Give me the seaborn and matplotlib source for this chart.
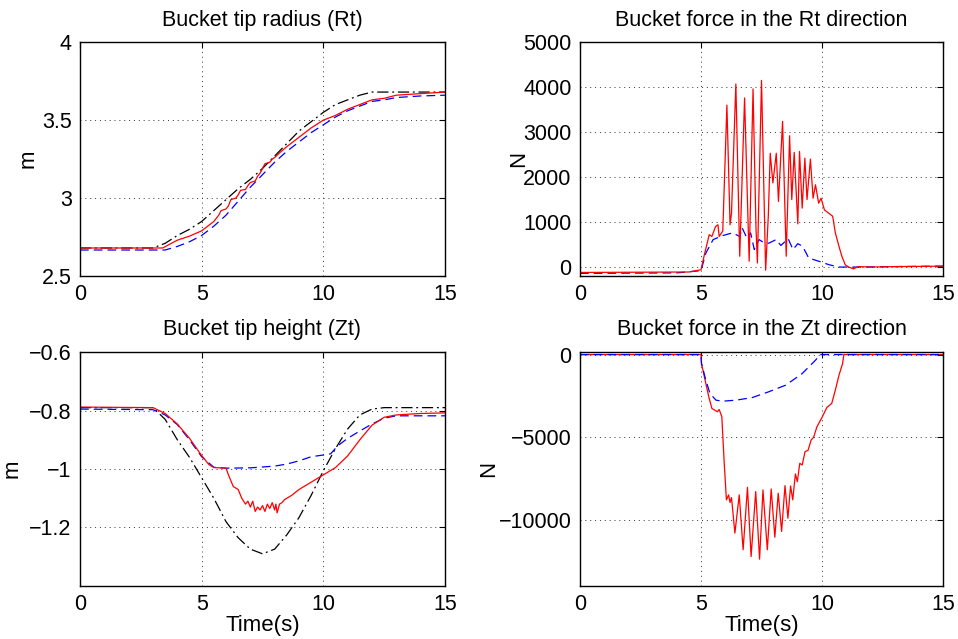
import numpy as np
import pandas as pd
import matplotlib
matplotlib.use('Agg')
import matplotlib.pyplot as plt
import seaborn as sns

# Bucket tip radius (Rt), m
rt_ref_t = [0, 3.0, 3.5, 4.0, 4.5, 5.0, 5.5, 6.0, 6.5, 7.0, 7.5, 8.0, 8.5, 9.0, 9.5, 10.0, 10.5, 11.0, 11.5, 12.0, 12.5, 15]
rt_ref = [2.68, 2.68, 2.71, 2.76, 2.80, 2.85, 2.92, 2.99, 3.06, 3.12, 3.19, 3.27, 3.35, 3.43, 3.49, 3.55, 3.60, 3.63, 3.66, 3.68, 3.68, 3.68]
rt_meas_t = [0, 3.4, 4.0, 4.5, 5.0, 5.5, 5.7, 5.8, 6.0, 6.1, 6.2, 6.4, 6.5, 6.6, 6.8, 6.9, 7.0, 7.2, 7.3, 7.4, 7.6, 7.8, 7.9, 8.0,
             8.2, 8.5, 9.0, 9.5, 10.0, 10.5, 11.0, 11.5, 12.0, 12.5, 13.0, 14.0, 15]
rt_meas = [2.68, 2.68, 2.73, 2.756, 2.79, 2.85, 2.89, 2.92, 2.93, 2.95, 2.99, 3.00, 3.02, 3.05, 3.055, 3.08, 3.10, 3.11, 3.14, 3.16, 3.22, 3.23, 3.25, 3.26,
           3.29, 3.33, 3.39, 3.45, 3.50, 3.53, 3.57, 3.60, 3.63, 3.64, 3.66, 3.67, 3.68]
rt_sim_t = [0, 3.5, 4.0, 4.5, 5.0, 5.5, 6.0, 6.5, 7.0, 7.5, 8.0, 8.5, 9.0, 9.5, 10.0, 10.5, 11.0, 11.5, 12.0, 12.5, 13.0, 14.0, 15]
rt_sim = [2.667, 2.667, 2.69, 2.72, 2.76, 2.82, 2.89, 2.98, 3.07, 3.15, 3.23, 3.30, 3.36, 3.42, 3.47, 3.52, 3.56, 3.59, 3.62, 3.63, 3.645, 3.655, 3.66]

# Bucket force in the Rt direction, N
fr_meas_t = [0, 4.5, 5.0, 5.15, 5.34, 5.45, 5.6, 5.7, 5.75, 5.9, 6.07, 6.2, 6.26, 6.44, 6.6, 6.8, 6.99, 7.15, 7.27, 7.33, 7.5, 7.67,
             7.78, 7.86, 7.97, 8.11, 8.2, 8.37, 8.52, 8.66, 8.75, 8.85, 9.0, 9.07, 9.18, 9.29, 9.38, 9.52, 9.63, 9.73, 9.86, 9.96,
             10.1, 10.27, 10.44, 10.55, 10.7, 10.82, 10.96, 11.1, 11.3, 11.5, 12.0, 13.0, 14.0, 15]
fr_meas = [-120, -110, -60, 300, 720, 680, 900, 940, 680, 800, 3600, 940, 1200, 4070, 240, 3760, 130, 3960, 900, 90, 4150, -70,
           1130, 2530, 1870, 2530, 1460, 3240, 240, 2920, 1500, 2550, 960, 2570, 1310, 2420, 1500, 2400, 1530, 1830, 1420, 1530,
           1270, 1200, 1130, 760, 460, 240, 50, 0, -40, 10, 0, 10, 15, 20]
fr_sim_t = [0, 4.0, 5.0, 5.2, 5.5, 5.9, 6.3, 6.6, 6.7, 6.9, 7.05, 7.2, 7.4, 7.6, 7.8, 8.1, 8.3, 8.6, 8.8, 9.0, 9.2, 9.45, 9.86,
            10.3, 10.7, 11.5, 13.0, 15]
fr_sim = [-140, -130, -80, 310, 610, 700, 760, 680, 870, 640, 760, 390, 610, 540, 530, 610, 480, 630, 390, 520, 460, 200, 130,
          50, 0, 0, 10, 20]

# Bucket tip height (Zt), m
zt_ref_t = [0, 3.0, 3.5, 4.0, 4.5, 5.0, 5.5, 6.0, 6.5, 7.0, 7.5, 8.0, 8.5, 9.0, 9.5, 10.0, 10.5, 11.0, 11.5, 12.0, 12.5, 15]
zt_ref = [-0.79, -0.79, -0.83, -0.90, -0.96, -1.03, -1.10, -1.18, -1.235, -1.274, -1.29, -1.274, -1.225, -1.166, -1.09, -1.006,
          -0.93, -0.863, -0.815, -0.795, -0.79, -0.79]
zt_meas_t = [0, 3.0, 3.5, 4.0, 4.5, 5.0, 5.3, 5.5, 6.0, 6.1, 6.3, 6.5, 6.65, 6.8, 6.9, 7.0, 7.1, 7.2, 7.3, 7.4, 7.5, 7.6, 7.7,
             7.8, 7.9, 8.0, 8.05, 8.1, 8.2, 8.3, 8.4, 8.5, 8.7, 9.0, 9.5, 10.0, 10.5, 11.0, 11.5, 12.0, 12.5, 13.0, 14.0, 15]
zt_meas = [-0.788, -0.79, -0.81, -0.846, -0.895, -0.954, -0.985, -0.995, -0.997, -1.02, -1.06, -1.07, -1.10, -1.12, -1.11, -1.13,
           -1.11, -1.145, -1.13, -1.14, -1.125, -1.145, -1.12, -1.135, -1.115, -1.14, -1.12, -1.15, -1.12, -1.115, -1.105, -1.10,
           -1.09, -1.07, -1.045, -1.02, -0.995, -0.955, -0.90, -0.85, -0.823, -0.815, -0.81, -0.808]
zt_sim_t = [0, 3.0, 3.5, 4.0, 4.5, 5.0, 5.5, 6.0, 7.0, 8.0, 8.5, 9.0, 9.5, 10.0, 10.3, 10.6, 11.0, 11.5, 12.0, 12.5, 13.0, 14.0, 15]
zt_sim = [-0.795, -0.797, -0.815, -0.848, -0.90, -0.958, -0.994, -0.997, -0.996, -0.99, -0.983, -0.972, -0.958, -0.952, -0.948,
          -0.92, -0.895, -0.87, -0.846, -0.826, -0.818, -0.818, -0.818]

# Bucket force in the Zt direction, N
fz_meas_t = [0, 5.0, 5.02, 5.14, 5.32, 5.45, 5.68, 5.75, 5.86, 5.96, 6.05, 6.14, 6.2, 6.26, 6.4, 6.58, 6.74, 6.92, 7.07, 7.26, 7.42,
             7.56, 7.74, 7.9, 8.05, 8.19, 8.33, 8.47, 8.59, 8.7, 8.79, 8.9, 8.98, 9.08, 9.18, 9.3, 9.42, 9.55, 9.65, 9.79, 10.0,
             10.2, 10.4, 10.55, 10.7, 10.85, 10.9, 15]
fz_meas = [0, 0, -540, -1350, -2550, -3260, -3460, -3320, -3760, -6580, -8790, -8490, -8950, -8650, -10800, -8490, -11810, -8030,
           -12220, -8290, -12380, -8190, -11810, -8130, -11050, -8390, -10700, -7930, -9900, -7950, -8790, -7220, -7690, -6580,
           -6680, -5870, -5800, -5170, -5010, -4370, -3800, -3200, -2960, -2150, -1250, -540, 0, 0]
fz_sim_t = [0, 5.0, 5.02, 5.2, 5.37, 5.62, 5.9, 6.44, 7.12, 7.8, 8.5, 9.18, 9.73, 9.93, 15]
fz_sim = [0, 0, -540, -1550, -2350, -2760, -2820, -2760, -2600, -2250, -1850, -1150, -340, 0, 0]

sns.set_style("white")
plt.rcParams['font.family'] = ['Liberation Sans', 'DejaVu Sans']
plt.rcParams['text.color'] = 'black'
plt.rcParams['axes.labelcolor'] = 'black'
plt.rcParams['xtick.color'] = 'black'
plt.rcParams['ytick.color'] = 'black'

fig = plt.figure(figsize=(9.58, 6.39), dpi=100)
h = 0.366
ax_rt = fig.add_axes([0.0835, 0.568, 0.381, h])
ax_fr = fig.add_axes([0.6054, 0.568, 0.379, h])
ax_zt = fig.add_axes([0.0835, 0.083, 0.381, h])
ax_fz = fig.add_axes([0.6054, 0.083, 0.379, h])

lw = 0.9
ref_dash = (9, 3, 1.5, 3)
sim_dash = (7, 4)
sns.lineplot(x=rt_ref_t, y=rt_ref, ax=ax_rt, color='black', dashes=ref_dash, linewidth=lw)
sns.lineplot(x=rt_sim_t, y=rt_sim, ax=ax_rt, color='blue', dashes=sim_dash, linewidth=lw)
sns.lineplot(x=rt_meas_t, y=rt_meas, ax=ax_rt, color='red', linewidth=lw)

sns.lineplot(x=fr_sim_t, y=fr_sim, ax=ax_fr, color='blue', dashes=sim_dash, linewidth=lw)
sns.lineplot(x=fr_meas_t, y=fr_meas, ax=ax_fr, color='red', linewidth=lw)

sns.lineplot(x=zt_ref_t, y=zt_ref, ax=ax_zt, color='black', dashes=ref_dash, linewidth=lw)
sns.lineplot(x=zt_sim_t, y=zt_sim, ax=ax_zt, color='blue', dashes=sim_dash, linewidth=lw)
sns.lineplot(x=zt_meas_t, y=zt_meas, ax=ax_zt, color='red', linewidth=lw)

sns.lineplot(x=fz_meas_t, y=fz_meas, ax=ax_fz, color='red', linewidth=lw)
sns.lineplot(x=fz_sim_t, y=fz_sim, ax=ax_fz, color='blue', dashes=sim_dash, linewidth=lw)

setup = [
    (ax_rt, "Bucket tip radius (Rt)", "m", 2, (2.5, 4), [2.5, 3, 3.5, 4], ["2.5", "3", "3.5", "4"], ""),
    (ax_fr, "Bucket force in the Rt direction", "N", -4, (-200, 5000), [0, 1000, 2000, 3000, 4000, 5000],
     ["0", "1000", "2000", "3000", "4000", "5000"], ""),
    (ax_zt, "Bucket tip height (Zt)", "m", 5, (-1.4, -0.6), [-1.2, -1, -0.8, -0.6],
     ["\u22121.2", "\u22121", "\u22120.8", "\u22120.6"], "Time(s)"),
    (ax_fz, "Bucket force in the Zt direction", "N", 0, (-14000, 150), [-10000, -5000, 0],
     ["\u221210000", "\u22125000", "0"], "Time(s)"),
]
for ax, title, ylab, lpad, ylim, yt, ytl, xlab in setup:
    ax.set_xlim(0, 15)
    ax.set_ylim(*ylim)
    ax.set_xticks([0, 5, 10, 15])
    ax.set_xticklabels(["0", "5", "10", "15"])
    ax.set_yticks(yt)
    ax.set_yticklabels(ytl)
    ax.set_title(title, fontsize=15.5, pad=12)
    ax.set_ylabel(ylab, fontsize=16, labelpad=lpad)
    ax.set_xlabel(xlab, fontsize=16, labelpad=0)
    ax.grid(True, color='#333333', linestyle=(0, (1, 4)), linewidth=0.7)
    ax.tick_params(axis='both', direction='in', length=4, labelsize=15.5, top=True, right=True, pad=6)
    for s in ax.spines.values():
        s.set_color('black')
        s.set_linewidth(1.0)

fig.savefig("out.png", dpi=100)
